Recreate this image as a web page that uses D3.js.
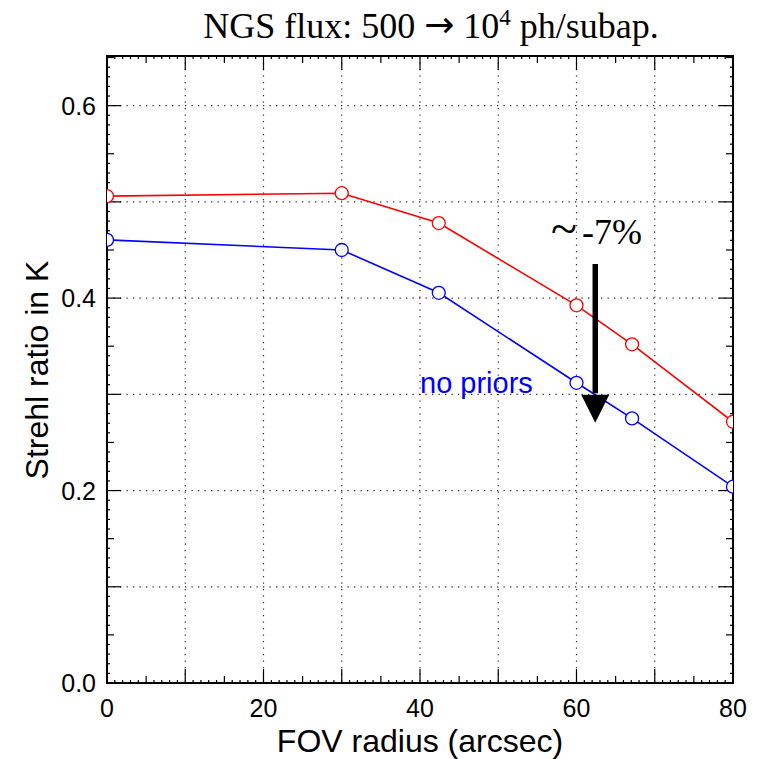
<!DOCTYPE html>
<html>
<head>
<meta charset="utf-8">
<script src="https://cdn.jsdelivr.net/npm/d3@7"></script>
<style>
  body { margin: 0; background: #fff; }
  svg { display: block; }
</style>
</head>
<body>
<div id="chart-area"></div>
<script>
// data
const fov = [0, 30, 42.4, 60, 67.1, 80]
const strehlPriors = [0.506, 0.509, 0.478, 0.3925, 0.352, 0.2715]
const strehlNoPriors = [0.4605, 0.450, 0.4055, 0.312, 0.275, 0.204]
const xLabels = [0, 20, 40, 60, 80]
const yLabels = [0.0, 0.2, 0.4, 0.6]

const W = 761, H = 759
const MARGIN = { LEFT: 107, RIGHT: 28, TOP: 56, BOTTOM: 76 }
const WIDTH = W - MARGIN.LEFT - MARGIN.RIGHT
const HEIGHT = H - MARGIN.TOP - MARGIN.BOTTOM
const SANS = "'Liberation Sans', Arial, sans-serif"
const SERIF = "'Liberation Serif', 'Times New Roman', serif"

const svg = d3.select("#chart-area")
  .append("svg")
    .attr("width", W)
    .attr("height", H)

const g = svg.append("g")
  .attr("transform", `translate(${MARGIN.LEFT}, ${MARGIN.TOP})`)

const x = d3.scaleLinear().domain([0, 80]).range([0, WIDTH])
const y = d3.scaleLinear().domain([0, 0.6516]).range([HEIGHT, 0])

// dotted grid
g.append("g").selectAll("line")
  .data(d3.range(10, 80, 10))
  .enter().append("line")
    .attr("x1", d => x(d)).attr("x2", d => x(d))
    .attr("y1", 0).attr("y2", HEIGHT)
    .attr("stroke", "#333").attr("stroke-width", 1.2)
    .attr("stroke-dasharray", "1.3 5.2")
g.append("g").selectAll("line")
  .data(d3.range(1, 7).map(d => d / 10))
  .enter().append("line")
    .attr("x1", 0).attr("x2", WIDTH)
    .attr("y1", d => y(d)).attr("y2", d => y(d))
    .attr("stroke", "#333").attr("stroke-width", 1.2)
    .attr("stroke-dasharray", "1.3 5.2")

// inward ticks on all four sides
function tickLen(v, major, mid) {
  if (Math.abs(v / major - Math.round(v / major)) < 1e-6) return 14
  if (Math.abs(v / mid - Math.round(v / mid)) < 1e-6) return 7
  return 3
}
const xt = d3.range(0, 81, 1)
const yt = d3.range(0, 66, 1).map(d => d / 100)
const ticks = g.append("g").attr("stroke", "#000").attr("stroke-width", 1.2)
xt.forEach(v => {
  const l = tickLen(v, 10, 5)
  ticks.append("line").attr("x1", x(v)).attr("x2", x(v)).attr("y1", HEIGHT).attr("y2", HEIGHT - l)
  ticks.append("line").attr("x1", x(v)).attr("x2", x(v)).attr("y1", 0).attr("y2", l)
})
yt.forEach(v => {
  const l = tickLen(v, 0.1, 0.05)
  ticks.append("line").attr("x1", 0).attr("x2", l).attr("y1", y(v)).attr("y2", y(v))
  ticks.append("line").attr("x1", WIDTH).attr("x2", WIDTH - l).attr("y1", y(v)).attr("y2", y(v))
})

// frame
g.append("rect")
  .attr("width", WIDTH).attr("height", HEIGHT)
  .attr("fill", "none").attr("stroke", "#000").attr("stroke-width", 2)

// tick labels
g.append("g").selectAll("text")
  .data(xLabels)
  .enter().append("text")
    .attr("x", d => x(d))
    .attr("y", HEIGHT + 34)
    .attr("text-anchor", "middle")
    .attr("font-family", SANS)
    .attr("font-size", "25px")
    .text(d => d)
g.append("g").selectAll("text")
  .data(yLabels)
  .enter().append("text")
    .attr("x", -11)
    .attr("y", d => y(d) + 9)
    .attr("text-anchor", "end")
    .attr("font-family", SANS)
    .attr("font-size", "25px")
    .text(d => d.toFixed(1))

// axis titles
svg.append("text")
  .attr("x", MARGIN.LEFT + WIDTH / 2)
  .attr("y", 752)
  .attr("text-anchor", "middle")
  .attr("font-family", SANS)
  .attr("font-size", "32px")
  .text("FOV radius (arcsec)")
svg.append("text")
  .attr("x", -370)
  .attr("y", 48)
  .attr("transform", "rotate(-90)")
  .attr("text-anchor", "middle")
  .attr("font-family", SANS)
  .attr("font-size", "32px")
  .text("Strehl ratio in K")

// title
const title = svg.append("text")
  .attr("x", 431)
  .attr("y", 38)
  .attr("text-anchor", "middle")
  .attr("font-family", SERIF)
  .attr("font-size", "36px")
title.append("tspan").text("NGS flux: 500 ")
title.append("tspan").attr("font-family", "'DejaVu Sans', sans-serif").attr("font-size", "36px").attr("dy", -1).text("\u2192")
title.append("tspan").attr("dy", 1).text(" 10")
title.append("tspan").attr("font-size", "23px").attr("dy", -13).text("4")
title.append("tspan").attr("dy", 13).text(" ph/subap.")

// series, clipped to the frame
g.append("clipPath").attr("id", "plot-clip")
  .append("rect").attr("width", WIDTH).attr("height", HEIGHT)
const plot = g.append("g").attr("clip-path", "url(#plot-clip)")

const series = [
  { values: strehlPriors, color: "#ff0000" },
  { values: strehlNoPriors, color: "#0000ff" }
]
const line = d3.line().x(d => x(d[0])).y(d => y(d[1]))
series.forEach(s => {
  const pts = fov.map((f, i) => [f, s.values[i]])
  plot.append("path")
    .attr("d", line(pts))
    .attr("fill", "none")
    .attr("stroke", s.color)
    .attr("stroke-width", 1.6)
  plot.selectAll(null)
    .data(pts)
    .enter().append("circle")
      .attr("cx", d => x(d[0]))
      .attr("cy", d => y(d[1]))
      .attr("r", 6.5)
      .attr("fill", "#fff")
      .attr("stroke", s.color)
      .attr("stroke-width", 1.3)
})

// annotations
g.append("text")
  .attr("x", 313)
  .attr("y", 337)
  .attr("font-family", SANS)
  .attr("font-size", "29px")
  .attr("fill", "#0000ff")
  .text("no priors")

const arrowX = x(62.4)
g.append("line")
  .attr("x1", arrowX).attr("x2", arrowX)
  .attr("y1", y(0.4355)).attr("y2", y(0.301))
  .attr("stroke", "#000").attr("stroke-width", 5.5)
g.append("path")
  .attr("d", `M${arrowX - 14},${y(0.2995)} L${arrowX + 14},${y(0.2995)} L${arrowX},${y(0.2705)} Z`)
  .attr("fill", "#000")

g.append("text")
  .attr("x", 444)
  .attr("y", 189)
  .attr("font-family", SERIF)
  .attr("font-size", "48px")
  .text("~")
g.append("text")
  .attr("x", 475)
  .attr("y", 188)
  .attr("font-family", SERIF)
  .attr("font-size", "36px")
  .text("-7%")
</script>
</body>
</html>
